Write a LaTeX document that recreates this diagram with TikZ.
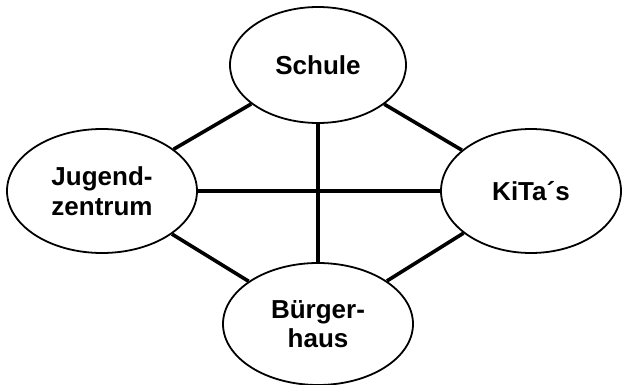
\documentclass[tikz,border=0pt]{standalone}
\usepackage{fontspec}
\setmainfont{Liberation Sans}
\usetikzlibrary{shapes.geometric}
\begin{document}
\begin{tikzpicture}[x=1pt,y=-1pt,
  place/.style={ellipse,draw,line width=1.8pt,fill=white,inner sep=0pt,
    font=\fontsize{26}{29.5}\selectfont\bfseries,align=center},
  link/.style={line width=3.6pt}]
  \useasboundingbox (0,0) rectangle (624,385);
  \node[place,minimum width=176pt,minimum height=116pt] (schule) at (318,65) {Schule};
  \node[place,minimum width=190pt,minimum height=124pt] (jugend) at (102,191) {Jugend-\\zentrum};
  \node[place,minimum width=180pt,minimum height=124pt] (kita) at (531,191) {KiTa´s};
  \node[place,minimum width=190pt,minimum height=122pt] (buerger) at (318,324) {Bürger-\\haus};
  \draw[link] (schule) -- (buerger);
  \draw[link] (jugend) -- (kita);
  \draw[link] (schule) -- (jugend);
  \draw[link] (schule) -- (kita);
  \draw[link] (jugend) -- (buerger);
  \draw[link] (kita) -- (buerger);
\end{tikzpicture}
\end{document}
